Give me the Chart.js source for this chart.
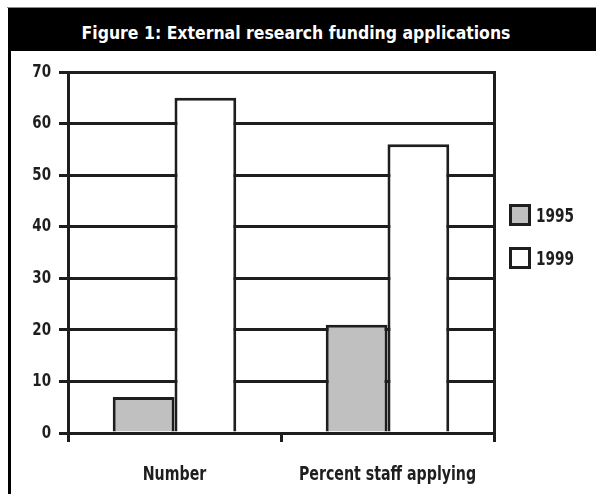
<!DOCTYPE html>
<html>
<head>
<meta charset="utf-8">
<script src="https://cdn.jsdelivr.net/npm/chart.js@4/dist/chart.umd.min.js"></script>
<style>
  body { margin: 0; background: #fff; }
  #wrap { position: relative; width: 596px; height: 494px; overflow: hidden; font-family: 'DejaVu Sans Condensed', 'DejaVu Sans', sans-serif; font-weight: bold; }
  #topline { position: absolute; left: 7px; top: 7px; right: 0; height: 1px; background: #8a8a8a; }
  #titlebar { position: absolute; left: 8px; top: 8px; right: 0; height: 43px; background: #000; }
  #title { position: absolute; left: -6px; right: 6px; top: 13px; color: #fff; font-size: 18px; line-height: 24px;
           text-align: center; transform: scaleX(0.97); transform-origin: 294px 0; white-space: nowrap; }
  #leftline { position: absolute; left: 8px; width: 3px; top: 51px; bottom: 0; background: #000; }
  #chart { position: absolute; left: 12px; top: 52px; }
  #legend { position: absolute; left: 509px; top: 204px; }
  .item { display: flex; align-items: center; height: 22px; margin-bottom: 21px; color: #1e1e1e; }
  .box { width: 16px; height: 16px; border: 3px solid #1e1e1e; margin-right: 5px; flex: none; }
  .txt { font-size: 19px; transform: scaleX(0.8); transform-origin: 0 50%; white-space: nowrap; }
</style>
</head>
<body>
<div id="wrap">
  <div id="topline"></div>
  <div id="titlebar"><div id="title">Figure 1: External research funding applications</div></div>
  <div id="leftline"></div>
  <canvas id="chart" width="584" height="442"></canvas>
  <div id="legend"></div>
</div>
<script>
const categories = ['Number', 'Percent staff applying'];
const years = ['1995', '1999'];
const values1995 = [7, 21];
const values1999 = [65, 56];
const yTicks = [0, 10, 20, 30, 40, 50, 60, 70];

const lineColor = '#1e1e1e';
const fontFamily = "'DejaVu Sans Condensed', 'DejaVu Sans', sans-serif";

const datasets = [
    { label: years[0], data: values1995, backgroundColor: '#c0c0c0' },
    { label: years[1], data: values1999, backgroundColor: '#ffffff' }
].map(d => Object.assign(d, {
    borderColor: lineColor,
    borderWidth: 3,
    borderSkipped: 'bottom',
    categoryPercentage: 0.58,
    barPercentage: 1.0,
    yAxisID: 'y'
}));

const ctx = document.getElementById('chart').getContext('2d');

// narrow the canvas labels a bit, the original uses a condensed face
const plainFillText = ctx.fillText.bind(ctx);
ctx.fillText = function (text, x, y) {
    ctx.save();
    ctx.translate(x, y);
    ctx.scale(0.83, 1);
    plainFillText(text, 0, 0);
    ctx.restore();
};

const chart = new Chart(ctx, {
    type: 'bar',
    data: { labels: categories, datasets: datasets },
    options: {
        responsive: false,
        animation: false,
        devicePixelRatio: 1,
        layout: { padding: { top: 20, right: 102, left: 0, bottom: 0 } },
        plugins: { legend: { display: false }, tooltip: { enabled: false } },
        scales: {
            x: {
                offset: true,
                grid: { offset: true, drawOnChartArea: false, drawTicks: true, tickLength: 9, lineWidth: 3, color: lineColor },
                border: { display: true, width: 3, color: lineColor },
                ticks: { padding: 22, color: lineColor, font: { family: fontFamily, size: 19, weight: 'bold' },
                         autoSkip: false, maxRotation: 0, minRotation: 0 },
                afterFit: (scale) => { scale.height = 61; }
            },
            y: {
                min: 0,
                max: 70,
                afterBuildTicks: (scale) => { scale.ticks = yTicks.map(v => ({ value: v })); },
                grid: { lineWidth: 3, color: lineColor, tickLength: 9, drawTicks: true },
                border: { display: true, width: 3, color: lineColor },
                ticks: { padding: 8, color: lineColor, font: { family: fontFamily, size: 18, weight: 'bold' } },
                afterFit: (scale) => { scale.width = 56; }
            },
            y2: {
                position: 'right',
                min: 0,
                max: 70,
                grid: { drawOnChartArea: false, drawTicks: false },
                border: { display: true, width: 3, color: lineColor },
                ticks: { display: false },
                afterFit: (scale) => { scale.width = 0; }
            }
        }
    }
});

// legend built from the datasets
const legend = document.getElementById('legend');
datasets.forEach(d => {
    const item = document.createElement('div');
    item.className = 'item';
    const box = document.createElement('div');
    box.className = 'box';
    box.style.background = d.backgroundColor;
    const txt = document.createElement('span');
    txt.className = 'txt';
    txt.textContent = d.label;
    item.appendChild(box);
    item.appendChild(txt);
    legend.appendChild(item);
});
</script>
</body>
</html>
